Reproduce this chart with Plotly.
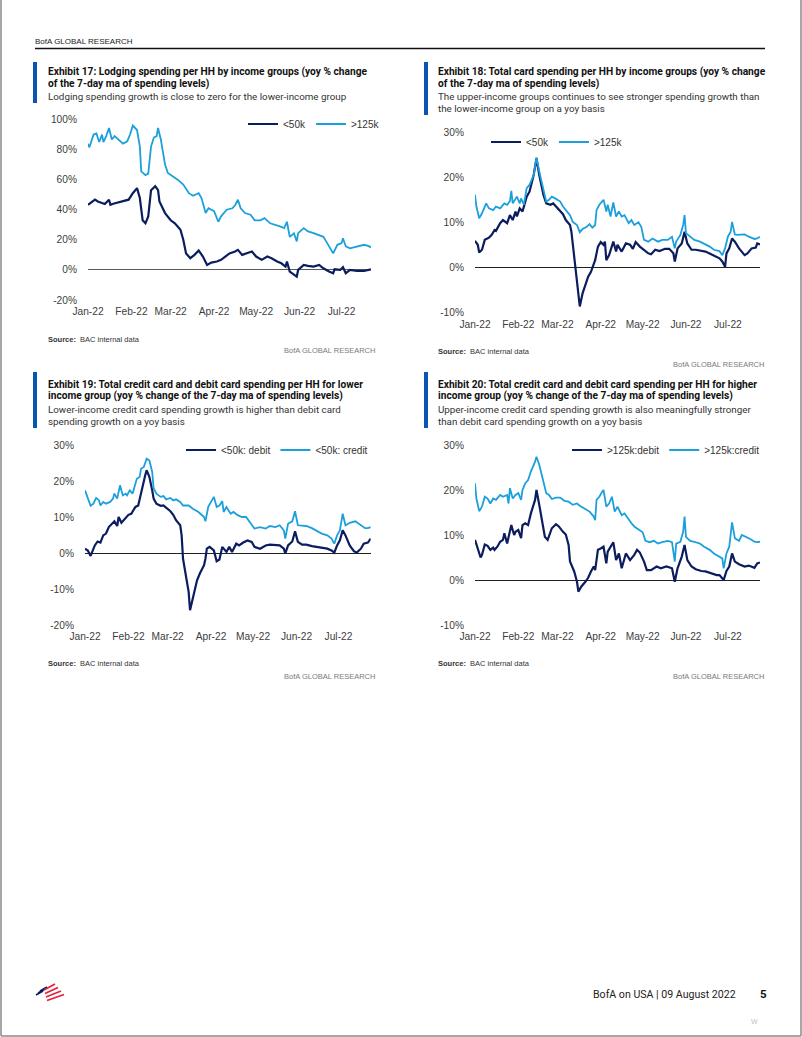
import pandas as pd
import plotly.graph_objects as go

W, H = 802, 1037
START = pd.Timestamp("2022-01-01")

# ---------------- DATA (days since 2022-01-01, values in %) ----------------
# Exhibit 17: Lodging spending
d17_lo = [0,3,5,7,10,12,15,16,18,22,25,29,32,35,37,39,41,43,45,48,50,51,55,59,62,66,68,70,73,76,
          79,82,85,88,92,95,98,101,105,107,110,113,117,120,124,128,131,135,138,141,142,144,146,149,150,
          154,157,161,165,168,172,175,176,180,182,184,187,192,197,202]
v17_lo = [43.3,45,46.7,45.5,44.4,43.8,46.7,43.3,44,45,45.5,46.7,51,54.4,47.8,33,31,35.6,53,55.6,
          53,45.5,37.8,33,31,26.7,20,11,7.8,10,12.9,8.9,3.3,4.9,5.6,6.7,8.9,11,12.2,13.3,
          10,11,12.2,8.9,6.7,8.9,7.8,5.6,4.4,2.2,5.6,-1.1,-2.2,-4.4,0,3.3,2.7,2.2,3.3,1.1,
          -1.1,-2.2,0.4,0,1.8,-2.2,0,-0.7,-0.7,0.4]
d17_hi = [0,1,4,6,8,10,11,13,15,17,19,22,25,28,30,32,35,37,38,41,43,45,47,49,50,52,55,57,61,64,68,
          72,75,79,81,84,86,90,93,95,99,103,105,107,109,112,116,119,123,126,130,134,137,140,142,144,
          147,149,150,154,157,161,165,168,170,173,175,178,181,182,184,187,192,197,200,202]
v17_hi = [83.8,81.5,90,90.7,85,90,85,89,94.4,86.7,89,86.7,84,85.5,90,96,93,82,65.5,63,64,
          82,88,89,94.4,86.7,70,64.4,62,60,56.7,51,49.3,51,47.8,37.8,41,39,32,35.6,40,
          41,43,46.7,41,37.8,36.7,33,33,34.4,31,30,29,27.8,32,22,24.4,19,24.4,27.8,25.6,
          24.4,23.3,22,19,14.4,11,16.7,17.8,21,15.6,14.4,15.6,16.7,16,15]

# Exhibit 18: Total card spending
d18_lo = [0,2,3,5,7,10,12,14,15,18,20,23,25,27,29,30,32,34,36,37,39,42,44,46,49,51,54,56,58,61,
          63,65,68,69,71,73,75,77,79,81,83,85,86,88,90,92,93,94,96,99,101,102,105,108,111,113,115,118,120,124,
          126,129,132,136,139,142,143,145,148,150,152,155,158,162,165,169,173,175,177,179,
          180,182,184,186,189,193,195,198,201,202,204]
v18_lo = [5.9,5,3.3,3.9,6.1,6.6,7.2,8.3,8.1,9.8,10.5,9.8,11.6,10.5,12.4,11.3,13.1,12.4,14.6,15.7,
          16.8,20.5,24.2,20.5,16.1,14.2,13.9,14.2,13.5,12.4,11.8,10.5,9.4,7.9,2,-2.4,-8.7,-5.8,-3.9,-2.1,
          -1,0.5,1.6,4.6,5.6,5,5.7,1.6,2.7,5.7,3.5,5,3.5,5.3,5,4.1,5.6,4.6,4.1,3.1,
          2.9,3.9,3.6,4.1,4.1,3.1,1.3,4.2,5.3,7.9,5.3,3.9,3.9,3.6,3.5,2.9,2.4,2,1.3,0.1,
          3.1,4.2,6.4,5.7,4.2,2.7,3.1,4.2,4.4,5.3,5.1]
d18_hi = [0,1,3,5,8,10,13,15,18,21,23,25,26,27,30,32,33,35,37,39,42,44,46,49,51,53,55,58,61,63,
          65,68,70,73,75,77,80,82,84,86,87,89,92,94,95,97,99,101,103,105,107,110,112,114,117,119,121,124,127,131,
          134,138,141,143,144,147,149,150,151,154,157,161,164,168,171,175,177,179,181,183,
          184,186,188,193,196,200,202,204]
v18_hi = [16.1,13.5,10.9,12,14.2,13.1,12.7,13.5,13.1,14.2,13.9,14.7,17,14.2,15.7,14.2,15.3,13.9,17.6,18.3,
          20.5,24.4,21.3,17.2,14.6,15,15.7,15.2,14.6,13.5,12.7,11.6,10.1,9.4,7.8,8.5,9,9.6,8.8,9.4,
          12.7,13.9,15,12.4,13.9,11.3,14.4,11.3,12.4,11.3,11.6,9.8,10.5,9.4,10,9,6.1,5.7,6.4,5.7,
          6.1,6.1,6.8,4.2,5.7,7.2,9.4,11.6,7.6,6.8,6.1,5.7,5.3,4.6,3.9,3.6,2.7,4.2,6.8,7.9,
          10.1,7.3,7.2,7.3,6.8,6.3,6.4,6.8]

# Exhibit 19: lower income debit / credit
d19_deb = [0,2,4,5,7,9,11,13,15,17,19,21,23,24,26,29,31,33,36,38,40,43,44,46,48,49,51,54,56,58,
           61,63,65,68,69,70,72,74,75,76,78,80,82,85,86,87,89,92,94,96,98,101,103,105,108,110,113,116,119,121,
           125,129,132,136,139,142,143,145,148,150,152,155,158,162,165,169,173,176,178,180,
           182,184,186,189,192,194,197,199,202,204]
v19_deb = [1.2,0.7,-0.8,0.3,2.1,3.2,2.9,4.9,5.4,7.2,8.1,8.8,7.5,10,8.4,9.7,10.6,10.9,12.8,13.2,
           16.9,21.6,23,21.1,17.4,15.1,13.7,13.1,13.2,12.5,11.6,10.6,9.1,7.7,4.9,-1.6,-6.2,-10.8,-15.9,-14.1,
           -10.4,-7.6,-5.7,-3.4,-1.6,1.2,1.7,0.7,-2.3,-1.8,1.7,0.3,1.7,0.3,2.6,2.1,2.9,3.5,3.1,1.7,
           1.2,2.1,2.3,2.3,2.1,1.2,-0.2,2.1,3.2,6,3.1,2.3,2.3,1.9,1.7,1.6,1.2,0.7,0.1,2.1,
           3.5,6.3,4.9,2.1,0.5,0.1,1.2,2.6,2.9,4]
d19_cre = [0,2,4,6,8,10,11,13,15,18,20,21,23,25,27,29,30,32,34,37,39,40,42,44,46,48,49,51,54,56,
           58,61,63,65,68,70,74,77,81,85,86,88,90,92,94,96,98,99,101,104,106,109,112,115,118,121,125,129,132,136,
           139,142,143,145,148,150,152,155,158,162,165,169,173,176,178,180,182,184,186,189,
           193,196,200,202,204]
v19_cre = [17.4,15.1,13.1,13.7,15.3,14.6,13.2,14.2,13.7,14.2,15.1,16.5,15.1,18.8,16,16.5,16,17.4,16.5,20.6,
           21.1,23.4,23.9,26.2,25.7,22.5,17.9,16.5,15.6,15.8,14.9,15.3,14.6,14.9,14.2,13.2,13.2,12.3,11.4,10,
           8.8,12.8,14.2,15.6,12.8,13.2,14.4,11.4,12.8,10.9,11.4,10.5,10,10,8.4,6.8,7.2,6.8,7.5,7.2,
           7.7,6.3,4,8.1,8.8,11.6,7.7,7.5,7.5,6.9,6.3,5.4,4.9,4,2.6,4.9,6.3,10.9,7.7,8.4,
           8.8,7.9,6.9,6.9,7.2]

# Exhibit 20: higher income debit / credit
d20_deb = [0,2,4,5,7,9,11,13,14,16,18,20,21,23,24,26,28,29,31,33,34,36,38,40,43,44,46,48,50,52,
           54,55,58,60,63,65,67,68,71,73,74,76,79,81,83,85,86,88,90,92,94,95,99,101,103,105,108,111,114,116,
           118,121,123,126,130,133,137,141,143,145,148,150,152,155,158,162,165,169,173,175,
           178,180,182,184,186,189,193,196,200,202,204]
v20_deb = [8.9,6.7,5,5.6,7.9,7.6,6.7,7.2,6.7,7.4,8.5,8.9,10.4,8.1,9.3,12.2,10,10.7,11.1,9.3,
           12.2,12.6,12.2,14.8,17.8,20,16.7,13.3,9.6,8.9,10.4,11.5,12.4,11.9,10.7,10.1,7.8,4.1,1.9,-0.4,
           -2.6,-1.5,-0.4,0.5,1.9,3,2.2,6.7,7,7.4,3.7,6.3,8.4,4.4,5.9,2.6,5.9,4.4,5.6,6.7,
           6.1,4.1,2.2,2.2,3,2.6,3,2.6,-0.4,2.6,5.2,7.8,4.4,3,2.4,2,1.9,1.5,1.1,1.1,
           0,2,3,5.9,4.1,3.5,3,3.2,2.7,3.7,3.9]
d20_cre = [0,1,3,5,7,9,11,13,15,18,20,23,24,25,27,29,31,33,34,36,38,40,43,44,46,49,51,53,55,58,
           61,64,67,70,73,75,79,82,85,86,87,89,91,92,94,96,98,100,102,105,107,110,112,114,117,120,122,125,128,131,
           134,138,141,143,144,147,149,150,151,154,157,161,164,168,171,175,177,178,180,182,
           184,186,189,191,194,197,200,202,204]
v20_cre = [21.5,18.1,15.3,16.3,18.5,18.1,17,18.1,17.8,18.9,18.5,18.9,17,20.4,18.1,18.9,19.3,17.8,20,21.5,
           22.2,24.1,26.3,27.4,25.6,21.5,19.3,18.9,18,18.3,18.3,17.6,17.4,16.7,17,16.5,15.8,15.2,14.1,13.3,
           17.8,18.5,19.6,20,16.3,17,18.5,15.2,16.3,14.4,14.8,13.3,12.6,11.9,11.3,10.6,8.7,8.4,8.7,8.1,
           8.4,8.7,8.4,4.1,8.1,8.5,10.7,14.1,9.6,8.7,8.5,8.1,7.4,6.7,5.9,5.2,4.8,2.6,5.9,7.4,
           12.8,9.3,8.7,10,9.6,9.1,8.5,8.4,8.5]

month_ticks = ["2022-01-01", "2022-02-01", "2022-03-01", "2022-04-01", "2022-05-01", "2022-06-01", "2022-07-01"]
month_labels = ["Jan-22", "Feb-22", "Mar-22", "Apr-22", "May-22", "Jun-22", "Jul-22"]

names17 = ["&lt;50k", "&gt;125k"]
names18 = ["&lt;50k", "&gt;125k"]
names19 = ["&lt;50k: debit", "&lt;50k: credit"]
names20 = ["&gt;125k:debit", "&gt;125k:credit"]

yticks17 = [-20, 0, 20, 40, 60, 80, 100]
yticks18 = [-10, 0, 10, 20, 30]
yticks19 = [-20, -10, 0, 10, 20, 30]
yticks20 = [-10, 0, 10, 20, 30]

# ---------------- STYLE ----------------
NAVY = "#0b1d5e"
SKY = "#1ca0db"
BAR = "#0b55b2"
NARROW = "Roboto, Liberation Sans, sans-serif"
REG = "Liberation Sans, Arial, sans-serif"
TICK = "#3d3d3d"


def fx(p):
    return p / W


def fy(p):
    return 1 - p / H


def dates(days):
    return [START + pd.Timedelta(days=int(d)) for d in days]


panels = [
    dict(xd=(88, 371), yd=(300, 119.5), yr=(-20, 100), yt=yticks17, zc="#5a5a5a",
         series=[(names17[0], d17_lo, v17_lo, NAVY, 2.2), (names17[1], d17_hi, v17_hi, SKY, 1.8)],
         leg=(243, 124)),
    dict(xd=(475, 760), yd=(312.3, 132.3), yr=(-10, 30), yt=yticks18, zc="#222222",
         series=[(names18[0], d18_lo, v18_lo, NAVY, 2.2), (names18[1], d18_hi, v18_hi, SKY, 1.8)],
         leg=(486, 142)),
    dict(xd=(85, 370.7), yd=(625, 445), yr=(-20, 30), yt=yticks19, zc="#222222",
         series=[(names19[0], d19_deb, v19_deb, NAVY, 2.2), (names19[1], d19_cre, v19_cre, SKY, 1.8)],
         leg=(181, 450)),
    dict(xd=(475, 760), yd=(625, 445), yr=(-10, 30), yt=yticks20, zc="#222222",
         series=[(names20[0], d20_deb, v20_deb, NAVY, 2.2), (names20[1], d20_cre, v20_cre, SKY, 1.8)],
         leg=(567, 450)),
]

fig = go.Figure()
layout = dict(
    width=W, height=H, margin=dict(l=0, r=0, t=0, b=0, pad=0, autoexpand=False),
    paper_bgcolor="white", plot_bgcolor="white", showlegend=True,
    annotations=[], shapes=[],
)

for i, p in enumerate(panels, start=1):
    sfx = "" if i == 1 else str(i)
    legname = "legend" if i == 1 else f"legend{i}"
    all_days = [d for s in p["series"] for d in s[1]]
    xrange = [START.strftime("%Y-%m-%d"), (START + pd.Timedelta(days=max(all_days))).strftime("%Y-%m-%d")]
    for name, dd, vv, col, lw in p["series"]:
        fig.add_trace(go.Scatter(
            x=dates(dd), y=vv, mode="lines", name=name,
            line=dict(color=col, width=lw),
            xaxis=f"x{sfx}", yaxis=f"y{sfx}", legend=legname,
        ))
    layout[f"xaxis{sfx}"] = dict(
        domain=[fx(p["xd"][0]), fx(p["xd"][1])], anchor=f"y{sfx}", type="date",
        range=xrange, tickvals=month_ticks, ticktext=month_labels,
        showgrid=False, zeroline=False, showline=False, ticks="", automargin=False,
        tickfont=dict(family=REG, size=10.2, color=TICK), ticklabelstandoff=4,
    )
    layout[f"yaxis{sfx}"] = dict(
        domain=[fy(p["yd"][0]), fy(p["yd"][1])], anchor=f"x{sfx}",
        range=list(p["yr"]), tickvals=p["yt"], ticktext=[f"{v}%" for v in p["yt"]],
        showgrid=False, zeroline=True, zerolinecolor=p["zc"], zerolinewidth=1.2,
        showline=False, ticks="", automargin=False,
        tickfont=dict(family=REG, size=10.2, color=TICK), ticklabelstandoff=10,
    )
    layout[legname] = dict(
        x=fx(p["leg"][0]), y=fy(p["leg"][1]), xanchor="left", yanchor="middle",
        orientation="h", bgcolor="rgba(0,0,0,0)", borderwidth=0,
        font=dict(family=REG, size=10, color="#333333"),
        itemwidth=30, tracegroupgap=0,
    )


def txt(x, y, s, size=11, color="#1a1a1a", family=NARROW, anchor="left"):
    layout["annotations"].append(dict(
        x=fx(x), y=fy(y), xref="paper", yref="paper", text=s, showarrow=False,
        xanchor=anchor, yanchor="middle", align=anchor, borderpad=0,
        font=dict(family=family, size=size, color=color),
    ))


def rect(x0, y0, x1, y1, color):
    layout["shapes"].append(dict(type="rect", xref="paper", yref="paper",
                                 x0=fx(x0), x1=fx(x1), y0=fy(y1), y1=fy(y0),
                                 fillcolor=color, line=dict(width=0)))


def seg(x0, y0, x1, y1, color, w=1.0):
    layout["shapes"].append(dict(type="line", xref="paper", yref="paper",
                                 x0=fx(x0), x1=fx(x1), y0=fy(y0), y1=fy(y1),
                                 line=dict(color=color, width=w)))


# Header
txt(34, 41.5, "BofA GLOBAL RESEARCH", size=8, color="#222222", family=REG)
seg(35, 48.5, 765, 48.5, "#111111", 1.5)

# Exhibit titles
titles = [
    (47, 33, 62, 103, [
        "<b>Exhibit 17: Lodging spending per HH by income groups (yoy % change</b>",
        "<b>of the 7-day ma of spending levels)</b>"],
     ["Lodging spending growth is close to zero for the lower-income group"], 72),
    (437, 424, 62, 115, [
        "<b>Exhibit 18: Total card spending per HH by income groups (yoy % change</b>",
        "<b>of the 7-day ma of spending levels)</b>"],
     ["The upper-income groups continues to see stronger spending growth than",
      "the lower-income group on a yoy basis"], 72),
    (47, 33, 372, 428, [
        "<b>Exhibit 19: Total credit card and debit card spending per HH for lower</b>",
        "<b>income group (yoy % change of the 7-day ma of spending levels)</b>"],
     ["Lower-income credit card spending growth is higher than debit card",
      "spending growth on a yoy basis"], 384.5),
    (437, 424, 372, 428, [
        "<b>Exhibit 20: Total credit card and debit card spending per HH for higher</b>",
        "<b>income group (yoy % change of the 7-day ma of spending levels)</b>"],
     ["Upper-income credit card spending growth is also meaningfully stronger",
      "than debit card spending growth on a yoy basis"], 384.5),
]
for tx, bx, by0, by1, tl, sl, y0 in titles:
    rect(bx, by0, bx + 4, by1, BAR)
    yy = y0
    for line in tl:
        txt(tx, yy, line, size=10.2, color="#111111")
        yy += 11.5
    yy += 1.5
    for line in sl:
        txt(tx, yy, line, size=9.8, color="#333333")
        yy += 12.5

# Sources / credits
for sx, sy, rx, ry in [(47, 339, 376, 351), (437, 352, 765, 364), (47, 663, 376, 676), (437, 663, 765, 676)]:
    txt(sx, sy, "<b>Source:</b>  BAC internal data", size=7.5, color="#333333", family=REG)
    txt(rx, ry, "BofA GLOBAL RESEARCH", size=7.5, color="#7a7a7a", family=REG, anchor="right")

# Footer
txt(737, 994, "BofA on USA | 09 August 2022", size=10.6, color="#222222", anchor="right")
txt(759, 994, "<b>5</b>", size=11.5, color="#111111", anchor="left")
txt(750, 1021, "W", size=7, color="#c0c0c0", family=REG)

# Logo (flag mark)
for k in range(3):
    seg(36 + 2 * k, 995 - 2 * k, 43 + 2 * k, 991 - 2 * k, NAVY, 1.6)
for k in range(4):
    seg(44 + k, 990 + 3.5 * k, 55 + 3 * k, 984 + 3.5 * k, "#e0243a", 1.8)

# Page border
seg(1, 0, 1, 1036, "#8a8a8a", 1.5)
seg(801, 0, 801, 1036, "#8a8a8a", 1.5)
seg(1, 1036, 801, 1036, "#8a8a8a", 1.5)

fig.update_layout(**layout)
fig.write_html(
    "out.html",
    config={"displayModeBar": False},
    post_script="document.body.style.margin='0';document.body.style.overflow='hidden';",
)
